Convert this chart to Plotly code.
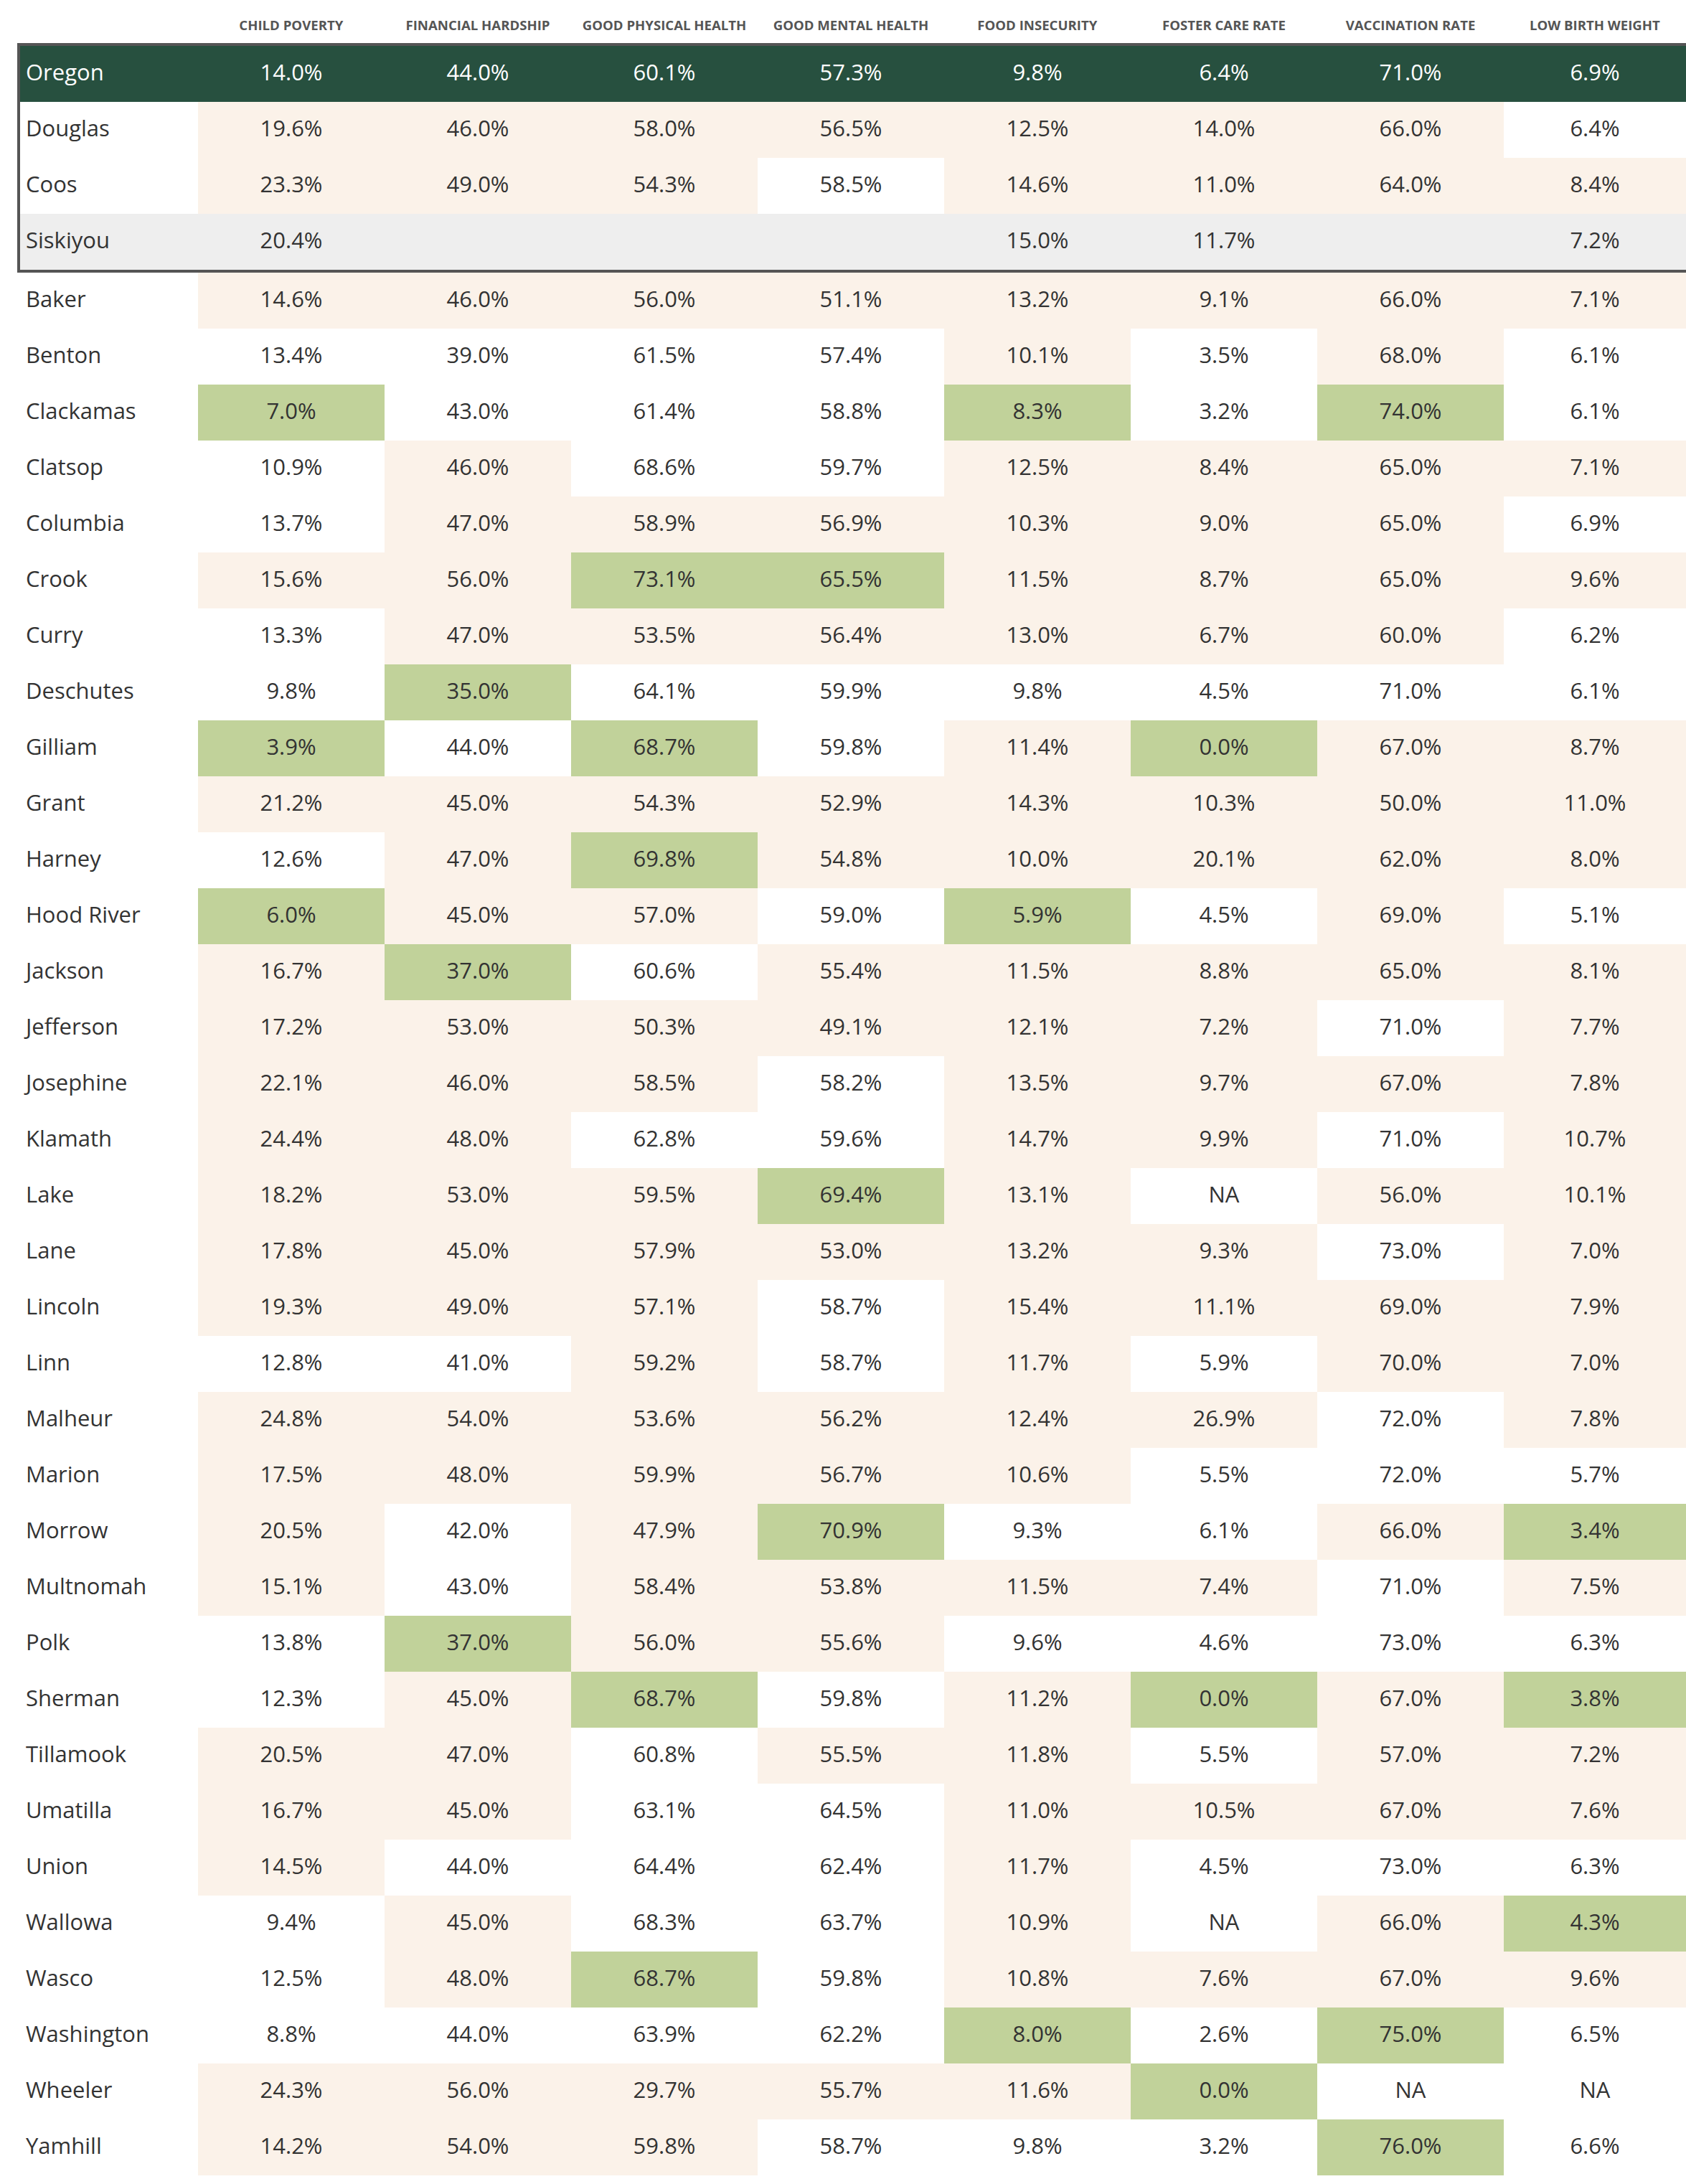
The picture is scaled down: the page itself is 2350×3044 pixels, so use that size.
import plotly.graph_objects as go

# ---------------- data ----------------
columns = ["CHILD POVERTY", "FINANCIAL HARDSHIP", "GOOD PHYSICAL HEALTH", "GOOD MENTAL HEALTH",
           "FOOD INSECURITY", "FOSTER CARE RATE", "VACCINATION RATE", "LOW BIRTH WEIGHT"]
higher_is_better = [False, False, True, True, False, False, True, False]

names = ["Oregon", "Douglas", "Coos", "Siskiyou", "Baker", "Benton", "Clackamas", "Clatsop",
         "Columbia", "Crook", "Curry", "Deschutes", "Gilliam", "Grant", "Harney", "Hood River",
         "Jackson", "Jefferson", "Josephine", "Klamath", "Lake", "Lane", "Lincoln", "Linn",
         "Malheur", "Marion", "Morrow", "Multnomah", "Polk", "Sherman", "Tillamook", "Umatilla",
         "Union", "Wallowa", "Wasco", "Washington", "Wheeler", "Yamhill"]

NA = "NA"
child_poverty = [14.0, 19.6, 23.3, 20.4, 14.6, 13.4, 7.0, 10.9, 13.7, 15.6, 13.3, 9.8, 3.9, 21.2,
                 12.6, 6.0, 16.7, 17.2, 22.1, 24.4, 18.2, 17.8, 19.3, 12.8, 24.8, 17.5, 20.5, 15.1,
                 13.8, 12.3, 20.5, 16.7, 14.5, 9.4, 12.5, 8.8, 24.3, 14.2]
financial_hardship = [44.0, 46.0, 49.0, None, 46.0, 39.0, 43.0, 46.0, 47.0, 56.0, 47.0, 35.0, 44.0,
                      45.0, 47.0, 45.0, 37.0, 53.0, 46.0, 48.0, 53.0, 45.0, 49.0, 41.0, 54.0, 48.0,
                      42.0, 43.0, 37.0, 45.0, 47.0, 45.0, 44.0, 45.0, 48.0, 44.0, 56.0, 54.0]
good_physical_health = [60.1, 58.0, 54.3, None, 56.0, 61.5, 61.4, 68.6, 58.9, 73.1, 53.5, 64.1, 68.7,
                        54.3, 69.8, 57.0, 60.6, 50.3, 58.5, 62.8, 59.5, 57.9, 57.1, 59.2, 53.6, 59.9,
                        47.9, 58.4, 56.0, 68.7, 60.8, 63.1, 64.4, 68.3, 68.7, 63.9, 29.7, 59.8]
good_mental_health = [57.3, 56.5, 58.5, None, 51.1, 57.4, 58.8, 59.7, 56.9, 65.5, 56.4, 59.9, 59.8,
                      52.9, 54.8, 59.0, 55.4, 49.1, 58.2, 59.6, 69.4, 53.0, 58.7, 58.7, 56.2, 56.7,
                      70.9, 53.8, 55.6, 59.8, 55.5, 64.5, 62.4, 63.7, 59.8, 62.2, 55.7, 58.7]
food_insecurity = [9.8, 12.5, 14.6, 15.0, 13.2, 10.1, 8.3, 12.5, 10.3, 11.5, 13.0, 9.8, 11.4, 14.3,
                   10.0, 5.9, 11.5, 12.1, 13.5, 14.7, 13.1, 13.2, 15.4, 11.7, 12.4, 10.6, 9.3, 11.5,
                   9.6, 11.2, 11.8, 11.0, 11.7, 10.9, 10.8, 8.0, 11.6, 9.8]
foster_care_rate = [6.4, 14.0, 11.0, 11.7, 9.1, 3.5, 3.2, 8.4, 9.0, 8.7, 6.7, 4.5, 0.0, 10.3, 20.1,
                    4.5, 8.8, 7.2, 9.7, 9.9, NA, 9.3, 11.1, 5.9, 26.9, 5.5, 6.1, 7.4, 4.6, 0.0, 5.5,
                    10.5, 4.5, NA, 7.6, 2.6, 0.0, 3.2]
vaccination_rate = [71.0, 66.0, 64.0, None, 66.0, 68.0, 74.0, 65.0, 65.0, 65.0, 60.0, 71.0, 67.0,
                    50.0, 62.0, 69.0, 65.0, 71.0, 67.0, 71.0, 56.0, 73.0, 69.0, 70.0, 72.0, 72.0,
                    66.0, 71.0, 73.0, 67.0, 57.0, 67.0, 73.0, 66.0, 67.0, 75.0, NA, 76.0]
low_birth_weight = [6.9, 6.4, 8.4, 7.2, 7.1, 6.1, 6.1, 7.1, 6.9, 9.6, 6.2, 6.1, 8.7, 11.0, 8.0, 5.1,
                    8.1, 7.7, 7.8, 10.7, 10.1, 7.0, 7.9, 7.0, 7.8, 5.7, 3.4, 7.5, 6.3, 3.8, 7.2, 7.6,
                    6.3, 4.3, 9.6, 6.5, NA, 6.6]

series = [child_poverty, financial_hardship, good_physical_health, good_mental_health,
          food_insecurity, foster_care_rate, vaccination_rate, low_birth_weight]

state_name = "Oregon"
out_of_state = ["Siskiyou"]
n_featured = 4  # rows shown inside the framed block (state + neighbours)

# ---------------- styling ----------------
FONT = "Open Sans"
DARK = "#27503f"
BEIGE = "#fbf2e9"
GREEN = "#c1d29a"
GRAY = "#eeeeee"
WHITE = "#ffffff"
CLEAR = "rgba(0,0,0,0)"
TXT = "#333333"
HDR = "#555555"

W, H = 2350, 3044
ROW_H = 78
HEADER_H = 64
GAP = 4               # frame line between the two blocks
X0 = 28
TXT_SHIFT = 17        # push table text down to sit mid-row
HDR_TOP = 14


def fmt(v):
    if v is None:
        return ""
    if isinstance(v, str):
        return v
    return f"{v:.1f}%"


state_idx = names.index(state_name)
county_idx = [i for i, n in enumerate(names) if n != state_name and n not in out_of_state]


def classify(col, hib):
    state = col[state_idx]
    nums = [col[i] for i in county_idx if isinstance(col[i], (int, float))]
    codes = []
    for i, v in enumerate(col):
        if i == state_idx:
            codes.append("state")
        elif names[i] in out_of_state:
            codes.append("other")
        elif not isinstance(v, (int, float)):
            codes.append("better")
        else:
            if hib:
                rank = 1 + sum(1 for x in nums if x > v)
                worse = v < state
            else:
                rank = 1 + sum(1 for x in nums if x < v)
                worse = v > state
            if rank <= 3:
                codes.append("best")
            elif worse:
                codes.append("worse")
            else:
                codes.append("better")
    return codes


color_of = {"state": DARK, "other": GRAY, "best": GREEN, "worse": BEIGE, "better": WHITE}
codes = [classify(c, h) for c, h in zip(series, higher_is_better)]

name_fill = [DARK if n == state_name else (GRAY if n in out_of_state else WHITE) for n in names]
name_font = [WHITE if n == state_name else TXT for n in names]


def block(rows):
    vals = [[names[i] for i in rows]] + [[fmt(s[i]) for i in rows] for s in series]
    fills = [[name_fill[i] for i in rows]] + [[color_of[c[i]] for i in rows] for c in codes]
    fcols = [[name_font[i] for i in rows]] + [[name_font[i] for i in rows] for _ in series]
    return vals, fills, fcols


colw = [2096 - X0 - 7 * 260] + [260] * 7 + [W - 2096]
xdom = [X0 / W, 1.0]


def ydom(top, bottom):
    return [max(0.0, 1 - bottom / H), 1 - top / H]


rows1 = list(range(n_featured))
rows2 = list(range(n_featured, len(names)))
aligns = ["left"] + ["center"] * 8
cell_font = dict(family=FONT, size=31)

fig = go.Figure()

v1, f1, c1 = block(rows1)
v2, f2, c2 = block(rows2)
blank1 = [["" for _ in rows1] for _ in range(9)]
blank2 = [["" for _ in rows2] for _ in range(9)]
top2 = HEADER_H + ROW_H * len(rows1) + GAP

# --- cell backgrounds ---
fig.add_trace(go.Table(
    domain=dict(x=xdom, y=ydom(0, HEADER_H + ROW_H * len(rows1) + 2)),
    columnwidth=colw,
    header=dict(values=[""] * 9, height=HEADER_H, fill_color=WHITE, line=dict(width=0, color=WHITE)),
    cells=dict(values=blank1, height=ROW_H, fill_color=f1, line=dict(width=0, color=f1)),
))
fig.add_trace(go.Table(
    domain=dict(x=xdom, y=ydom(top2, top2 + ROW_H * len(rows2) + 2)),
    columnwidth=colw,
    header=dict(values=[[] for _ in range(9)], height=0, line=dict(width=0)),
    cells=dict(values=blank2, height=ROW_H, fill_color=f2, line=dict(width=0, color=f2)),
))

# --- cell text (transparent layer, centred in the rows) ---
fig.add_trace(go.Table(
    domain=dict(x=xdom, y=ydom(HDR_TOP, HEADER_H + TXT_SHIFT + ROW_H * len(rows1) + 2)),
    columnwidth=colw,
    header=dict(values=[""] + ["<b>" + c.replace(" ", "\u00a0") + "</b>" for c in columns],
                height=HEADER_H + TXT_SHIFT - HDR_TOP, fill_color=CLEAR,
                line=dict(width=0, color=CLEAR), align="center",
                font=dict(family=FONT, size=18.6, color=HDR)),
    cells=dict(values=v1, height=ROW_H, fill_color=CLEAR, line=dict(width=0, color=CLEAR),
               align=aligns, font=dict(cell_font, color=c1)),
))
fig.add_trace(go.Table(
    domain=dict(x=xdom, y=ydom(top2 + TXT_SHIFT, H)),
    columnwidth=colw,
    header=dict(values=[[] for _ in range(9)], height=0, line=dict(width=0)),
    cells=dict(values=v2, height=ROW_H, fill_color=CLEAR, line=dict(width=0, color=CLEAR),
               align=aligns, font=dict(cell_font, color=c2)),
))

# --- frame around state + neighbour rows ---
frame_bottom = HEADER_H + ROW_H * len(rows1) + GAP / 2
fig.add_shape(type="rect", xref="paper", yref="paper",
              x0=(X0 - 2) / W, x1=1.01, y0=1 - frame_bottom / H, y1=1 - (HEADER_H - 2) / H,
              line=dict(color="#555555", width=4), fillcolor=CLEAR, layer="above")

fig.update_layout(width=W, height=H, margin=dict(l=0, r=0, t=0, b=0),
                  paper_bgcolor=WHITE, plot_bgcolor=WHITE,
                  font=dict(family=FONT, color=TXT))

fig.write_html("out.html", config={"displayModeBar": False},
               post_script="document.body.style.margin='0px';document.body.style.overflow='hidden';")
